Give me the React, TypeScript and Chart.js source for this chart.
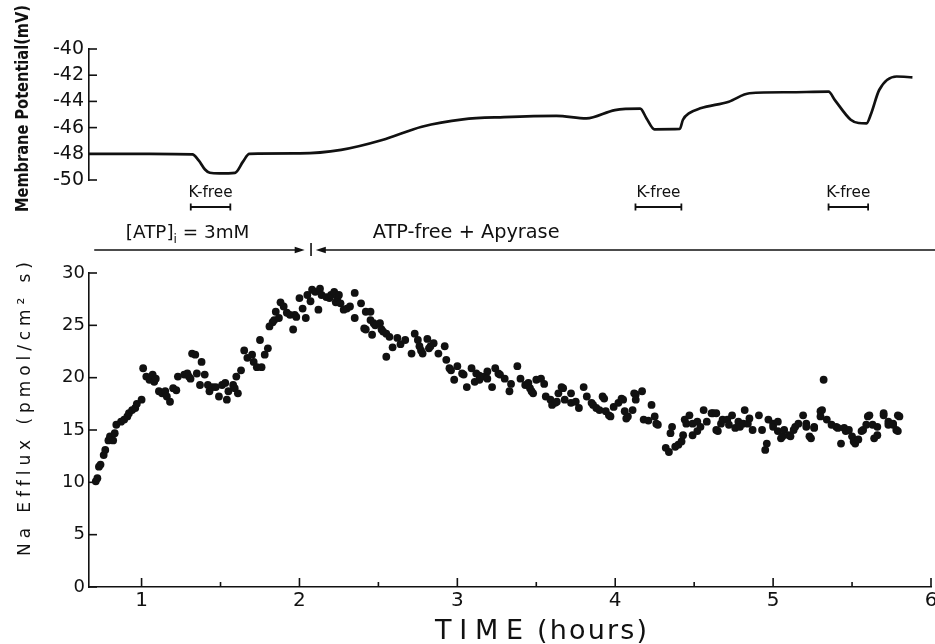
import React, { useEffect, useRef } from "react";
import { Chart, registerables } from "chart.js";

Chart.register(...registerables);

// ---------- data ----------
// Top panel: membrane potential trace (hours, mV)
const potentialTime = [
  0.667, 1.05, 1.32, 1.36, 1.4, 1.43, 1.49, 1.59, 1.64, 1.68, 2.0, 2.26, 2.52, 2.77, 3.03, 3.29, 3.62,
  3.81, 3.99, 4.15, 4.19, 4.24, 4.4, 4.42, 4.46, 4.53, 4.71, 4.84, 5.09, 5.34, 5.38, 5.48, 5.53,
  5.58, 5.61, 5.66, 5.77, 5.87,
];
const potentialMv = [
  -48.0, -48.0, -48.05, -48.5, -49.2, -49.45, -49.5, -49.45, -48.6, -48.0, -47.97, -47.7, -46.95, -45.93,
  -45.37, -45.2, -45.1, -45.3, -44.66, -44.55, -45.3, -46.13, -46.1, -45.4, -44.9, -44.53, -44.02,
  -43.38, -43.3, -43.26, -43.9, -45.4, -45.65, -45.67, -44.9, -43.13, -42.1, -42.16,
];

// Bottom panel: Na efflux (hours, pmol/cm2 s)
const effluxTime = [
  0.71, 0.72, 0.73, 0.74, 0.76, 0.77, 0.79, 0.8, 0.82, 0.83, 0.84, 0.87, 0.89, 0.91, 0.92, 0.94,
  0.96, 0.97, 1.0, 1.01, 1.03, 1.05, 1.07, 1.08, 1.09, 1.11, 1.13, 1.15, 1.16, 1.18, 1.2, 1.22,
  1.23, 1.27, 1.29, 1.3, 1.31, 1.32, 1.34, 1.35, 1.37, 1.38, 1.4, 1.42, 1.43, 1.45, 1.47, 1.49,
  1.51, 1.53, 1.54, 1.55, 1.58, 1.59, 1.6, 1.61, 1.63, 1.65, 1.67, 1.7, 1.71, 1.73, 1.75, 1.76,
  1.78, 1.8, 1.81, 1.83, 1.84, 1.85, 1.87, 1.88, 1.9, 1.92, 1.94, 1.96, 1.97, 1.98, 2.0, 2.02,
  2.04, 2.05, 2.07, 2.08, 2.1, 2.12, 2.13, 2.14, 2.17, 2.19, 2.2, 2.22, 2.23, 2.24, 2.25, 2.26,
  2.28, 2.3, 2.32, 2.35, 2.35, 2.39, 2.41, 2.42, 2.42, 2.45, 2.45, 2.46, 2.47, 2.48, 2.51, 2.52,
  2.53, 2.55, 2.55, 2.57, 2.59, 2.62, 2.64, 2.67, 2.71, 2.73, 2.75, 2.76, 2.77, 2.78, 2.81, 2.82,
  2.83, 2.85, 2.88, 2.92, 2.93, 2.95, 2.96, 2.98, 3.0, 3.03, 3.04, 3.06, 3.09, 3.11, 3.12, 3.14,
  3.14, 3.17, 3.19, 3.19, 3.22, 3.24, 3.26, 3.27, 3.3, 3.33, 3.34, 3.38, 3.4, 3.43, 3.45, 3.46,
  3.47, 3.48, 3.5, 3.53, 3.55, 3.56, 3.59, 3.6, 3.62, 3.63, 3.64, 3.66, 3.67, 3.68, 3.72, 3.72,
  3.75, 3.77, 3.8, 3.82, 3.85, 3.86, 3.88, 3.9, 3.92, 3.93, 3.94, 3.96, 3.97, 3.99, 4.02, 4.04,
  4.05, 4.06, 4.07, 4.08, 4.11, 4.12, 4.13, 4.13, 4.17, 4.18, 4.21, 4.23, 4.25, 4.26, 4.27, 4.32,
  4.34, 4.35, 4.36, 4.38, 4.4, 4.42, 4.43, 4.44, 4.45, 4.47, 4.49, 4.49, 4.52, 4.52, 4.54, 4.56,
  4.58, 4.61, 4.62, 4.64, 4.64, 4.65, 4.67, 4.68, 4.71, 4.72, 4.74, 4.76, 4.78, 4.79, 4.81, 4.82,
  4.84, 4.85, 4.87, 4.91, 4.93, 4.95, 4.96, 4.97, 5.0, 5.0, 5.03, 5.03, 5.05, 5.06, 5.07, 5.1,
  5.11, 5.13, 5.14, 5.16, 5.19, 5.21, 5.21, 5.23, 5.24, 5.26, 5.26, 5.3, 5.3, 5.31, 5.32, 5.34,
  5.37, 5.4, 5.41, 5.43, 5.45, 5.46, 5.48, 5.5, 5.51, 5.52, 5.54, 5.56, 5.57, 5.59, 5.6, 5.61,
  5.63, 5.64, 5.66, 5.66, 5.7, 5.7, 5.73, 5.73, 5.76, 5.76, 5.78, 5.79, 5.79, 5.8,
];
const effluxValue = [
  10.1, 10.4, 11.5, 11.7, 12.6, 13.1, 14.0, 14.4, 14.0, 14.7, 15.5, 15.8, 16.0, 16.3, 16.6, 16.9,
  17.1, 17.5, 17.9, 20.9, 20.1, 19.8, 20.3, 19.6, 19.9, 18.7, 18.5, 18.7, 18.2, 17.7, 19.0, 18.8,
  20.1, 20.3, 20.4, 20.1, 19.9, 22.3, 22.2, 20.4, 19.3, 21.5, 20.3, 19.3, 18.7, 19.1, 19.1, 18.2,
  19.3, 19.5, 17.9, 18.7, 19.3, 19.0, 20.1, 18.5, 20.7, 22.6, 21.9, 22.2, 21.5, 21.0, 23.6, 21.0,
  22.2, 22.8, 24.9, 25.3, 25.5, 26.3, 25.7, 27.2, 26.8, 26.2, 26.0, 24.6, 26.0, 25.8, 27.6, 26.6,
  25.7, 27.9, 27.3, 28.4, 28.2, 26.5, 28.5, 27.9, 27.7, 27.6, 27.9, 28.2, 27.2, 27.6, 27.9, 27.1,
  26.5, 26.6, 26.8, 28.1, 25.7, 27.1, 24.7, 26.3, 24.6, 25.5, 26.3, 24.1, 25.2, 25.0, 25.2, 24.6,
  24.4, 24.2, 22.0, 23.9, 22.9, 23.8, 23.2, 23.6, 22.3, 24.2, 23.6, 23.0, 22.6, 22.3, 23.7, 22.8,
  23.0, 23.3, 22.3, 23.0, 21.7, 20.9, 20.7, 19.8, 21.1, 20.4, 20.3, 19.1, 20.9, 19.6, 20.4, 20.2,
  19.8, 20.1, 20.6, 19.9, 19.1, 20.9, 20.4, 20.3, 19.9, 18.7, 19.4, 21.1, 19.9, 19.3, 19.5, 19.0,
  18.7, 18.5, 19.8, 19.9, 19.4, 18.2, 17.9, 17.4, 17.6, 17.7, 18.5, 19.1, 19.0, 17.9, 18.5, 17.6,
  17.7, 17.1, 19.1, 18.2, 17.6, 17.4, 17.1, 16.9, 18.2, 18.0, 16.8, 16.4, 16.3, 17.2, 17.6, 18.0,
  17.9, 16.8, 16.1, 16.3, 16.9, 18.5, 18.4, 17.9, 18.7, 16.0, 15.9, 17.4, 16.3, 15.6, 15.5, 13.3,
  12.9, 14.7, 15.3, 13.4, 13.6, 13.9, 14.5, 16.0, 15.6, 16.4, 14.5, 15.6, 15.8, 14.9, 15.3, 16.9,
  15.8, 16.6, 16.6, 15.0, 16.6, 14.9, 15.6, 16.0, 16.0, 15.5, 16.4, 15.2, 15.8, 15.3, 15.6, 16.9,
  15.6, 16.1, 15.0, 16.4, 15.0, 13.1, 13.7, 16.0, 15.6, 15.3, 15.8, 14.9, 14.2, 14.4, 15.0, 14.5,
  14.4, 15.0, 15.3, 15.6, 16.4, 15.6, 15.3, 14.4, 14.2, 15.3, 15.2, 16.3, 16.8, 16.9, 19.8, 16.0,
  15.5, 15.3, 15.2, 13.7, 15.2, 14.9, 15.0, 14.4, 13.9, 13.7, 14.1, 14.9, 15.0, 15.5, 16.3, 16.4,
  15.5, 14.2, 14.5, 15.3, 16.4, 16.6, 15.8, 15.5, 15.5, 15.6, 15.0, 14.9, 16.4, 16.3,
];

// Axes
const timeMin = 0.667;
const timeMax = 6;
const timeTicks = [1, 2, 3, 4, 5, 6];
const timeHalfTicks = [1.5, 2.5, 3.5, 4.5, 5.5];
const potentialTicks = [-50, -48, -46, -44, -42, -40];
const effluxTicks = [0, 5, 10, 15, 20, 25, 30];

// Annotations (hours)
const kFreeStart = [1.31, 4.12, 5.34];
const kFreeEnd = [1.56, 4.41, 5.59];
const kFreeText = "K-free";
const atpArrowFrom = 0.7;
const atpArrowTo = 2.03;
const phaseDivider = 2.07;
const apyraseArrowFrom = 6.02;
const apyraseArrowTo = 2.1;
const atpLabelFrom = 0.9;
const atpLabelTo = 1.68;
const apyraseLabel = "ATP-free + Apyrase";
const apyraseLabelFrom = 2.46;
const apyraseLabelTo = 3.64;

// ---------- layout ----------
const W = 935;
const H = 644;
const AXIS_LEFT = 89;
const TOP_AREA = [49, 180];
const BOTTOM_AREA = [273, 587];
const INK = "#111111";
const TICK_FONT = "DejaVu Sans";

function fitText(ctx: CanvasRenderingContext2D, text: string, x0: number, y: number, width: number) {
  const w = ctx.measureText(text).width;
  ctx.save();
  ctx.translate(x0, y);
  ctx.scale(width / w, 1);
  ctx.textAlign = "left";
  ctx.fillText(text, 0, 0);
  ctx.restore();
}

function spacedText(ctx: CanvasRenderingContext2D, text: string, x0: number, y: number, width: number) {
  const chars = Array.from(text);
  const widths = chars.map((c) => ctx.measureText(c).width);
  const total = widths.reduce((a, b) => a + b, 0);
  const gap = chars.length > 1 ? (width - total) / (chars.length - 1) : 0;
  let x = x0;
  ctx.textAlign = "left";
  chars.forEach((c, i) => {
    ctx.fillText(c, x, y);
    x += widths[i] + gap;
  });
}

function line(ctx: CanvasRenderingContext2D, x1: number, y1: number, x2: number, y2: number) {
  ctx.beginPath();
  ctx.moveTo(x1, y1);
  ctx.lineTo(x2, y2);
  ctx.stroke();
}

function arrowHead(ctx: CanvasRenderingContext2D, x: number, y: number, dir: number) {
  ctx.beginPath();
  ctx.moveTo(x, y);
  ctx.lineTo(x - dir * 10, y - 3.2);
  ctx.lineTo(x - dir * 10, y + 3.2);
  ctx.closePath();
  ctx.fill();
}

const topDecor = {
  id: "topDecor",
  afterDraw(chart: any) {
    const { ctx, chartArea } = chart;
    const xs = chart.scales.x;
    const ys = chart.scales.y;
    ctx.save();
    ctx.strokeStyle = INK;
    ctx.fillStyle = INK;
    ctx.lineWidth = 1.6;
    // inward y ticks
    potentialTicks.forEach((v) => {
      const py = ys.getPixelForValue(v);
      line(ctx, chartArea.left, py, chartArea.left + 8, py);
    });
    // K-free markers
    const b = chartArea.bottom;
    ctx.font = `15px ${TICK_FONT}`;
    ctx.textBaseline = "middle";
    kFreeStart.forEach((s, i) => {
      const x1 = xs.getPixelForValue(s);
      const x2 = xs.getPixelForValue(kFreeEnd[i]);
      const mid = (x1 + x2) / 2;
      fitText(ctx, kFreeText, mid - 22, b + 13, 44);
      ctx.lineWidth = 1.8;
      line(ctx, x1, b + 27, x2, b + 27);
      line(ctx, x1, b + 23.5, x1, b + 30.5);
      line(ctx, x2, b + 23.5, x2, b + 30.5);
    });
    // Phase arrows
    const ay = b + 70;
    ctx.lineWidth = 1.6;
    const a1 = xs.getPixelForValue(atpArrowFrom);
    const a2 = xs.getPixelForValue(atpArrowTo);
    line(ctx, a1, ay, a2 - 6, ay);
    arrowHead(ctx, a2, ay, 1);
    const dv = xs.getPixelForValue(phaseDivider);
    line(ctx, dv, ay - 7, dv, ay + 6);
    const p1 = xs.getPixelForValue(apyraseArrowFrom);
    const p2 = xs.getPixelForValue(apyraseArrowTo);
    line(ctx, p1, ay, p2 + 6, ay);
    arrowHead(ctx, p2, ay, -1);
    // Phase labels
    const ty = b + 53;
    ctx.textBaseline = "middle";
    const l1 = xs.getPixelForValue(atpLabelFrom);
    const l2 = xs.getPixelForValue(atpLabelTo);
    const partA = "[ATP]";
    const partSub = "i";
    const partB = " = 3mM";
    ctx.font = `18px ${TICK_FONT}`;
    const wA = ctx.measureText(partA).width;
    const wB = ctx.measureText(partB).width;
    ctx.font = `12px ${TICK_FONT}`;
    const wSub = ctx.measureText(partSub).width;
    const k = (l2 - l1) / (wA + wSub + wB);
    ctx.save();
    ctx.translate(l1, ty);
    ctx.scale(k, 1);
    ctx.textAlign = "left";
    ctx.font = `18px ${TICK_FONT}`;
    ctx.fillText(partA, 0, 0);
    ctx.font = `12px ${TICK_FONT}`;
    ctx.fillText(partSub, wA, 7);
    ctx.font = `18px ${TICK_FONT}`;
    ctx.fillText(partB, wA + wSub, 0);
    ctx.restore();
    ctx.font = `19px ${TICK_FONT}`;
    fitText(ctx, apyraseLabel, xs.getPixelForValue(apyraseLabelFrom), ty,
      xs.getPixelForValue(apyraseLabelTo) - xs.getPixelForValue(apyraseLabelFrom));
    // y title
    ctx.save();
    ctx.translate(28, 212);
    ctx.rotate(-Math.PI / 2);
    ctx.font = `bold 18px ${TICK_FONT}`;
    ctx.textBaseline = "alphabetic";
    fitText(ctx, "Membrane Potential(mV)", 0, 0, 207);
    ctx.restore();
    ctx.restore();
  },
};

const bottomDecor = {
  id: "bottomDecor",
  afterDraw(chart: any) {
    const { ctx, chartArea } = chart;
    const xs = chart.scales.x;
    const ys = chart.scales.y;
    ctx.save();
    ctx.strokeStyle = INK;
    ctx.fillStyle = INK;
    ctx.lineWidth = 1.6;
    effluxTicks.forEach((v) => {
      const py = ys.getPixelForValue(v);
      line(ctx, chartArea.left, py, chartArea.left + 8, py);
    });
    timeTicks.forEach((v) => {
      const px = xs.getPixelForValue(v);
      line(ctx, px, chartArea.bottom, px, chartArea.bottom - 9);
    });
    timeHalfTicks.forEach((v) => {
      const px = xs.getPixelForValue(v);
      line(ctx, px, chartArea.bottom, px, chartArea.bottom - 5);
    });
    // x title
    ctx.textBaseline = "alphabetic";
    ctx.font = `27px ${TICK_FONT}`;
    spacedText(ctx, "TIME", 435, 639, 88);
    spacedText(ctx, "(hours)", 537, 639, 110);
    // y title
    ctx.save();
    ctx.translate(30, 556);
    ctx.rotate(-Math.PI / 2);
    ctx.font = `17px ${TICK_FONT}`;
    spacedText(ctx, "Na Efflux (pmol/cm² s)", 0, 0, 294);
    ctx.restore();
    ctx.restore();
  },
};

export default function App() {
  const topRef = useRef<HTMLCanvasElement | null>(null);
  const bottomRef = useRef<HTMLCanvasElement | null>(null);

  useEffect(() => {
    const topChart = new Chart(topRef.current as HTMLCanvasElement, {
      type: "line",
      data: {
        datasets: [
          {
            data: potentialTime.map((t, i) => ({ x: t, y: potentialMv[i] })),
            borderColor: INK,
            borderWidth: 2.7,
            pointRadius: 0,
            fill: false,
            cubicInterpolationMode: "monotone",
          },
        ],
      },
      options: {
        responsive: false,
        animation: false,
        devicePixelRatio: 1,
        events: [],
        layout: { padding: { left: 0, right: 2, top: TOP_AREA[0], bottom: H - TOP_AREA[1] } },
        plugins: { legend: { display: false }, tooltip: { enabled: false } },
        scales: {
          x: { type: "linear", min: timeMin, max: timeMax, display: false },
          y: {
            type: "linear",
            min: -50,
            max: -40,
            afterFit: (s: any) => {
              s.width = AXIS_LEFT;
            },
            afterBuildTicks: (s: any) => {
              s.ticks = potentialTicks.map((v) => ({ value: v }));
            },
            ticks: { color: INK, font: { family: TICK_FONT, size: 19 }, padding: 5, callback: (v: any) => String(v) },
            grid: { display: false, drawTicks: false },
            border: { display: true, color: INK, width: 1.6 },
          },
        },
      },
      plugins: [topDecor],
    } as any);

    const bottomChart = new Chart(bottomRef.current as HTMLCanvasElement, {
      type: "scatter",
      data: {
        datasets: [
          {
            data: effluxTime.map((t, i) => ({ x: t, y: effluxValue[i] })),
            backgroundColor: INK,
            borderWidth: 0,
            pointRadius: 3.9,
          },
        ],
      },
      options: {
        responsive: false,
        animation: false,
        devicePixelRatio: 1,
        events: [],
        layout: { padding: { left: 0, right: 2, top: BOTTOM_AREA[0], bottom: 0 } },
        plugins: { legend: { display: false }, tooltip: { enabled: false } },
        scales: {
          x: {
            type: "linear",
            min: timeMin,
            max: timeMax,
            afterBuildTicks: (s: any) => {
              s.ticks = timeTicks.map((v) => ({ value: v }));
            },
            afterFit: (s: any) => {
              s.height = H - BOTTOM_AREA[1];
              s.paddingLeft = 0;
              s.paddingRight = 0;
            },
            ticks: { color: INK, font: { family: TICK_FONT, size: 20 }, padding: 2, maxRotation: 0, callback: (v: any) => String(v) },
            grid: { display: false, drawTicks: false },
            border: { display: true, color: INK, width: 1.6 },
          },
          y: {
            type: "linear",
            min: 0,
            max: 30,
            afterFit: (s: any) => {
              s.width = AXIS_LEFT;
            },
            afterBuildTicks: (s: any) => {
              s.ticks = effluxTicks.map((v) => ({ value: v }));
            },
            ticks: { color: INK, font: { family: TICK_FONT, size: 18 }, padding: 4, callback: (v: any) => String(v) },
            grid: { display: false, drawTicks: false },
            border: { display: true, color: INK, width: 1.6 },
          },
        },
      },
      plugins: [bottomDecor],
    } as any);

    return () => {
      topChart.destroy();
      bottomChart.destroy();
    };
  }, []);

  const canvasStyle: React.CSSProperties = {
    position: "absolute",
    left: 0,
    top: 0,
    width: W,
    height: H,
    display: "block",
  };

  return (
    <div style={{ position: "absolute", left: 0, top: 0, width: W, height: H, overflow: "hidden", background: "#fff" }}>
      <canvas ref={bottomRef} width={W} height={H} style={canvasStyle} />
      <canvas ref={topRef} width={W} height={H} style={canvasStyle} />
    </div>
  );
}
